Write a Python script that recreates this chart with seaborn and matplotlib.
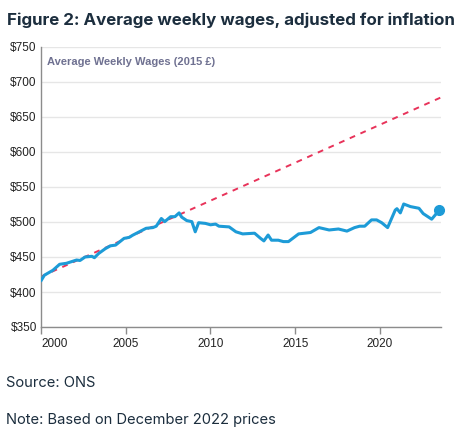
import matplotlib
matplotlib.use("Agg")
import matplotlib.pyplot as plt
import seaborn as sns
import pandas as pd

years = [2000.0, 2000.2, 2000.7, 2001.1, 2001.5, 2002.1, 2002.3, 2002.6, 2003.0, 2003.15,
         2003.4, 2003.8, 2004.1, 2004.4, 2004.9, 2005.2, 2005.4, 2005.8, 2006.2, 2006.6,
         2006.8, 2007.1, 2007.3, 2007.65, 2007.9, 2008.15, 2008.3, 2008.6, 2008.9, 2009.1,
         2009.3, 2009.7, 2010.0, 2010.3, 2010.5, 2011.1, 2011.5, 2011.9, 2012.6, 2012.95,
         2013.15, 2013.4, 2013.6, 2014.0, 2014.3, 2014.6, 2015.2, 2015.9, 2016.4, 2017.0,
         2017.55, 2018.05, 2018.5, 2018.8, 2019.1, 2019.5, 2019.8, 2020.1, 2020.45, 2020.9,
         2021.0, 2021.2, 2021.4, 2021.8, 2022.3, 2022.55, 2023.05, 2023.5]
wages = [416, 424, 431, 439.6, 441, 445.7, 445, 450, 451, 449,
         455, 462, 466, 467, 476.6, 478, 481, 486, 491, 492,
         494, 505, 500.5, 507.6, 507.6, 513, 507, 502, 500.5, 486,
         499, 498, 496, 497, 494, 493, 486, 483, 484, 476.7,
         473, 481.4, 474, 474, 472, 472, 483, 485, 492, 488.6,
         490, 487, 492, 494, 494, 503, 503, 499, 492, 517,
         519, 513, 525.7, 522, 519.6, 512, 504, 517]

trend_years = [2000.0, 2023.6]
trend_values = [422, 678]

y_ticks = [350, 400, 450, 500, 550, 600, 650, 700, 750]
x_ticks = [2000, 2005, 2010, 2015, 2020]

sns.set_theme(style="white")
plt.rcParams['font.family'] = ['Liberation Sans', 'DejaVu Sans']

fig = plt.figure(figsize=(4.75, 4.32), dpi=100)
ax = fig.add_axes([41/475, (432-327)/432, 400/475, 280/432])

df = pd.DataFrame({"year": years, "wage": wages})
tdf = pd.DataFrame({"year": trend_years, "wage": trend_values})

sns.lineplot(data=tdf, x="year", y="wage", ax=ax, color="#e8335a", linewidth=1.4,
             linestyle=(0, (3, 3)), zorder=2)
sns.lineplot(data=df, x="year", y="wage", ax=ax, color="#1d9bd7", linewidth=2.2, zorder=3)
ax.plot([years[-1]], [wages[-1]], marker="o", markersize=7, color="#1d9bd7", zorder=4,
        clip_on=False)

ax.set_xlim(2000, 2023.6)
ax.set_ylim(350, 750)
ax.set_yticks(y_ticks)
ax.set_yticklabels([f"${v}" for v in y_ticks])
ax.set_xticks(x_ticks)
ax.set_xticklabels([str(v) for v in x_ticks])
ax.xaxis.get_majorticklabels()[0].set_horizontalalignment("left")
ax.set_xlabel("")
ax.set_ylabel("")

ax.grid(axis="y", color="#e6e6e6", linewidth=1)
ax.set_axisbelow(True)
for s in ["top", "right"]:
    ax.spines[s].set_visible(False)
for s in ["left", "bottom"]:
    ax.spines[s].set_color("#8c8c8c")
    ax.spines[s].set_linewidth(1)
ax.tick_params(axis="x", bottom=True, length=5, width=1, color="#8c8c8c",
               labelsize=8.5, labelcolor="#222222", pad=3)
ax.tick_params(axis="y", left=False, length=0, labelsize=8.5, labelcolor="#222222", pad=3)

ax.text(0.015, 0.965, "Average Weekly Wages (2015 £)", transform=ax.transAxes,
        ha="left", va="top", fontsize=8, fontweight="bold", color="#6f7191")

fig.text(7/475, 1 - 20/432, "Figure 2: Average weekly wages, adjusted for inflation",
         ha="left", va="center", fontsize=12.2, fontweight="bold", color="#1c2e3e",
         family=["Inter", "DejaVu Sans"])
fig.text(6/475, 1 - 383/432, "Source: ONS", ha="left", va="center",
         fontsize=10.6, color="#1c2e3e", family=["Inter", "DejaVu Sans"])
fig.text(6/475, 1 - 420/432, "Note: Based on December 2022 prices", ha="left", va="center",
         fontsize=10.6, color="#1c2e3e", family=["Inter", "DejaVu Sans"])

fig.savefig("out.png", dpi=100)
